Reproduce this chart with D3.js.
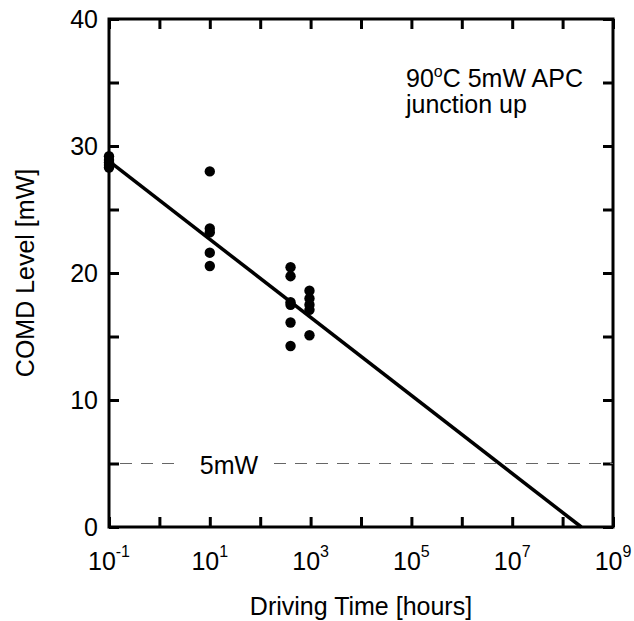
<!DOCTYPE html>
<meta charset="utf-8">
<script src="https://d3js.org/d3.v7.min.js"></script>
<style>
  html, body { margin: 0; padding: 0; background: #fff; }
  svg { display: block; }
</style>
<div id="chart"></div>
<script>

// measured points, driving time [hours] vs COMD level [mW]
var hours = [0.1, 0.1, 0.1, 0.1, 0.1,
             10, 10, 10, 10, 10,
             400, 400, 400, 400, 400, 400,
             950, 950, 950, 950, 950]
var comd  = [29.2, 28.9, 28.7, 28.5, 28.3,
             28.0, 23.5, 23.2, 21.6, 20.55,
             20.45, 19.75, 17.7, 17.5, 16.1, 14.25,
             18.6, 18.0, 17.5, 17.1, 15.1]

// fitted line
var fitHours = [0.1, 2.35e8]
var fitComd  = [28.8, 0]

var refLevel = 5
var refLabel = "5mW"

var xTicks = [1e-1, 1e1, 1e3, 1e5, 1e7, 1e9]
var xTickExp = ["-1", "1", "3", "5", "7", "9"]
var yTicks = [0, 10, 20, 30, 40]

var w = 634, h = 621
var margin = {top: 19, right: 21, bottom: 94, left: 109},
    innerWidth = w - margin.left - margin.right,
    innerHeight = h - margin.top - margin.bottom

var font = "Liberation Sans, Arial, sans-serif"

var svg = d3.select("#chart")
  .append("svg")
    .attr("width", w)
    .attr("height", h)
    .attr("font-family", font)

var xScale = d3.scaleLog()
  .domain([1e-1, 1e9])
  .range([0, innerWidth])

var yScale = d3.scaleLinear()
  .domain([0, 40])
  .range([innerHeight, 0])

var g = svg.append("g")
  .attr("transform", `translate(${margin.left},${margin.top})`)

var allDecades = d3.range(-1, 10).map(e => Math.pow(10, e))
var allFives = d3.range(0, 41, 5)

// ticks on all four sides, pointing inward
function styleAxis(sel) {
  sel.select(".domain").remove()
  sel.selectAll(".tick line").attr("stroke", "#000").attr("stroke-width", 3)
  sel.selectAll(".tick text").remove()
}

g.append("g")
  .attr("transform", `translate(0,${innerHeight})`)
  .call(d3.axisBottom(xScale).tickValues(allDecades).tickSize(-10))
  .call(styleAxis)

g.append("g")
  .call(d3.axisTop(xScale).tickValues(allDecades).tickSize(-10))
  .call(styleAxis)

g.append("g")
  .call(d3.axisLeft(yScale).tickValues(allFives).tickSize(-10))
  .call(styleAxis)

g.append("g")
  .attr("transform", `translate(${innerWidth},0)`)
  .call(d3.axisRight(yScale).tickValues(allFives).tickSize(-10))
  .call(styleAxis)

// frame
g.append("rect")
  .attr("width", innerWidth)
  .attr("height", innerHeight)
  .attr("fill", "none")
  .attr("stroke", "#000")
  .attr("stroke-width", 3)

// x tick labels with superscripts
var xl = g.selectAll(".xlab")
  .data(xTicks)
  .enter()
  .append("text")
    .attr("class", "xlab")
    .attr("x", d => xScale(d))
    .attr("y", innerHeight + 43)
    .attr("text-anchor", "middle")
    .attr("font-size", 25)
xl.append("tspan").text("10")
xl.append("tspan")
  .attr("dy", -13)
  .attr("font-size", 16)
  .text((d, i) => xTickExp[i])

g.selectAll(".ylab")
  .data(yTicks)
  .enter()
  .append("text")
    .attr("class", "ylab")
    .attr("x", -11)
    .attr("y", d => yScale(d))
    .attr("dy", 9)
    .attr("text-anchor", "end")
    .attr("font-size", 25)
    .text(d => d)

// axis titles
svg.append("text")
  .attr("x", margin.left + innerWidth / 2)
  .attr("y", 615)
  .attr("text-anchor", "middle")
  .attr("font-size", 25)
  .text("Driving Time [hours]")

svg.append("text")
  .attr("transform", "rotate(-90)")
  .attr("x", -(margin.top + innerHeight / 2))
  .attr("y", 33.5)
  .attr("text-anchor", "middle")
  .attr("font-size", 25)
  .text("COMD Level [mW]")

// 5mW reference line, broken around its label
var yRef = yScale(refLevel)
g.append("line")
  .attr("x1", 11).attr("x2", 73)
  .attr("y1", yRef).attr("y2", yRef)
  .attr("stroke", "#666").attr("stroke-width", 1.2)
  .attr("stroke-dasharray", "12,9")
g.append("line")
  .attr("x1", 165).attr("x2", innerWidth)
  .attr("y1", yRef).attr("y2", yRef)
  .attr("stroke", "#666").attr("stroke-width", 1.2)
  .attr("stroke-dasharray", "12,9")
g.append("text")
  .attr("x", 120)
  .attr("y", yRef)
  .attr("dy", 10)
  .attr("text-anchor", "middle")
  .attr("font-size", 25)
  .text(refLabel)

// fit line
g.append("path")
  .datum(d3.zip(fitHours, fitComd))
  .attr("fill", "none")
  .attr("stroke", "#000")
  .attr("stroke-width", 3.5)
  .attr("d", d3.line().x(d => xScale(d[0])).y(d => yScale(d[1])))

// points
g.selectAll("circle")
  .data(d3.zip(hours, comd))
  .enter()
  .append("circle")
    .attr("cx", d => xScale(d[0]))
    .attr("cy", d => yScale(d[1]))
    .attr("r", 5.2)
    .attr("fill", "#000")

// annotation
var ann = svg.append("text")
  .attr("x", 406)
  .attr("y", 87)
  .attr("font-size", 25)
ann.append("tspan").text("90")
ann.append("tspan").attr("dy", -10).attr("font-size", 16).text("o")
ann.append("tspan").attr("dy", 10).text("C 5mW APC")

svg.append("text")
  .attr("x", 406)
  .attr("y", 113)
  .attr("font-size", 25)
  .text("junction up")

</script>
